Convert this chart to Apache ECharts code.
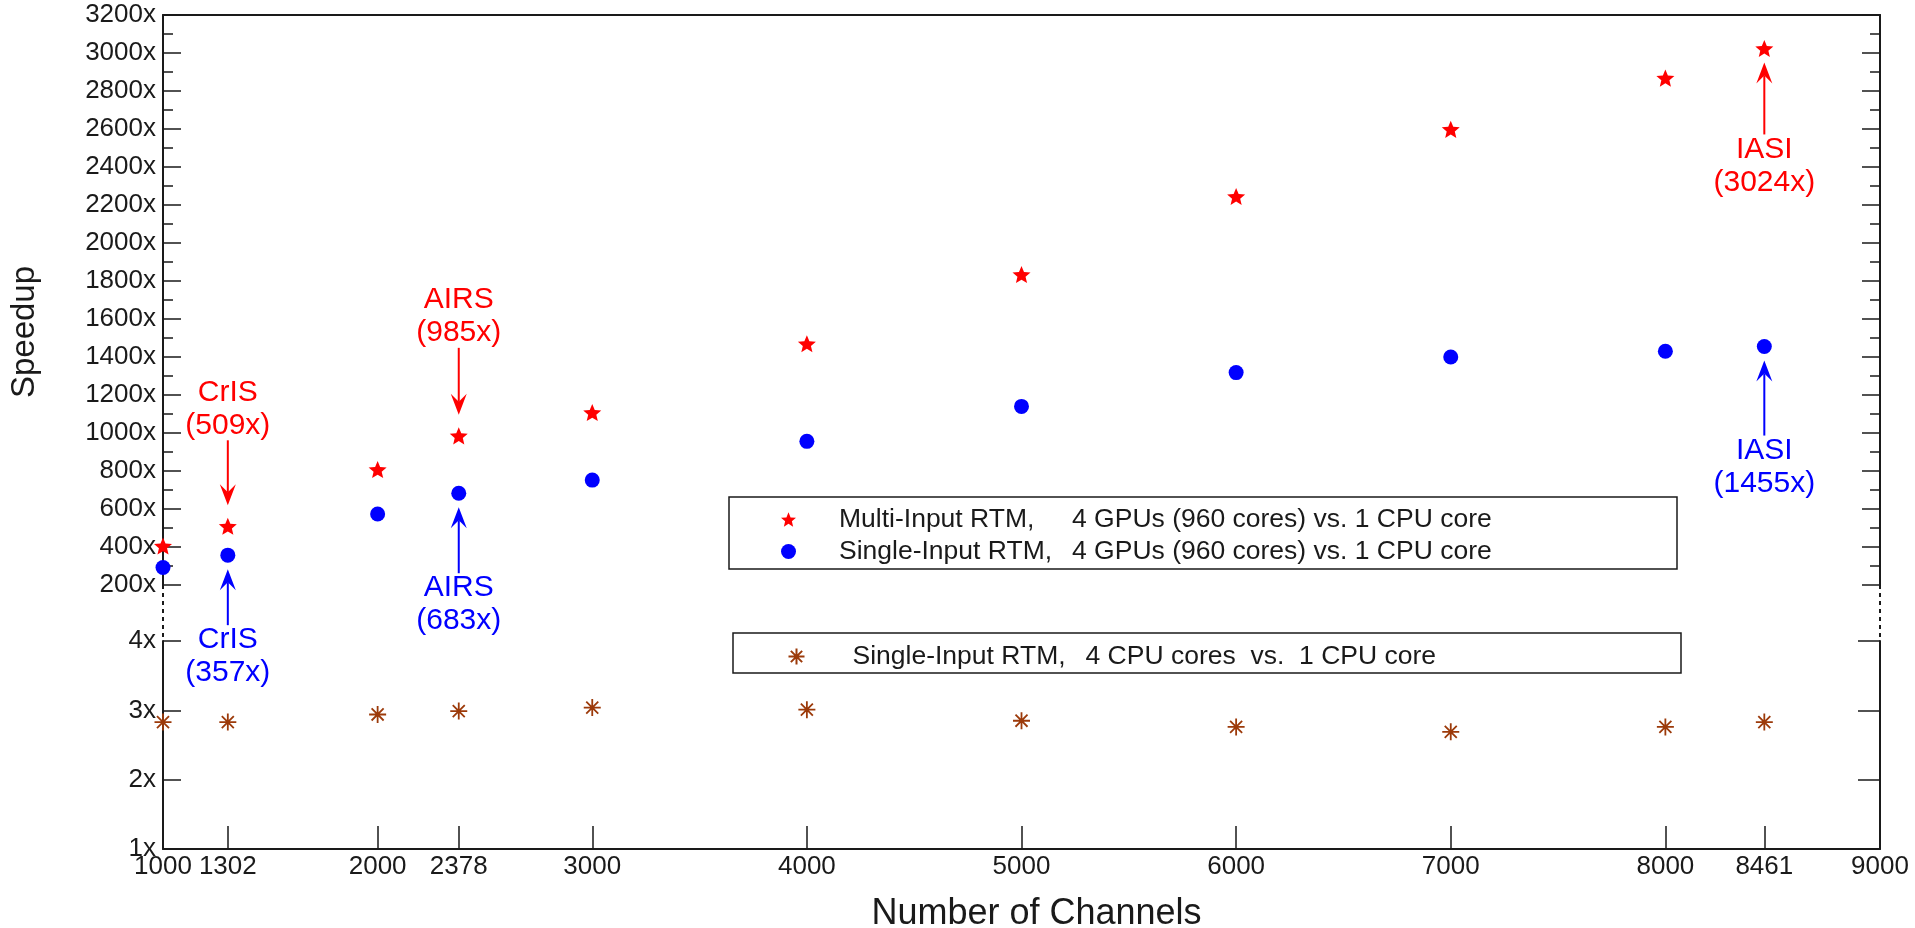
<!DOCTYPE html>
<html><head><meta charset="utf-8">
<script src="https://cdn.jsdelivr.net/npm/echarts@6/dist/echarts.min.js"></script>
<style>html,body{margin:0;padding:0;background:#fff}#c{width:1915px;height:928px}</style>
</head><body><div id="c"></div>
<script>
// ---------- data ----------
const channels   = [1000, 1302, 2000, 2378, 3000, 4000, 5000, 6000, 7000, 8000, 8461];
const multiGpu   = [405, 509, 808, 985, 1108, 1470, 1834, 2245, 2598, 2868, 3024];
const singleGpu  = [292, 357, 574, 683, 752, 956, 1140, 1318, 1400, 1430, 1455];
const singleCpu  = [2.83, 2.83, 2.94, 2.99, 3.04, 3.01, 2.85, 2.76, 2.69, 2.76, 2.83];
const xTickValues  = [1302, 2000, 2378, 3000, 4000, 5000, 6000, 7000, 8000, 8461];
const xLabelValues = [1000, 1302, 2000, 2378, 3000, 4000, 5000, 6000, 7000, 8000, 8461, 9000];
const legendLeft  = ['Multi-Input RTM,', 'Single-Input RTM,', 'Single-Input RTM,'];
const legendRight = ['4 GPUs (960 cores) vs. 1 CPU core', '4 GPUs (960 cores) vs. 1 CPU core', '4 CPU cores  vs.  1 CPU core'];
const annoChannels = [1302, 2378, 8461];
const annoSensors  = ['CrIS', 'AIRS', 'IASI'];

// ---------- layout / style (not data) ----------
const FONT = 'Liberation Sans, Arial, sans-serif';
const RED = '#ff0000', BLUE = '#0000ff', BROWN = '#9c3a0a', INK = '#1a1a1a';
const redAnnoDir = [-1, -1, 1];          // -1: text above point, +1: text below
const redAnnoGap = [101, 103, 101];
const blueAnnoGap = [85, 95, 104];

const names = legendLeft.map((l, i) => l + ' ' + legendRight[i]);
const starPath = 'path://M0,-10 L2.645,-3.64 L9.51,-3.09 L4.28,1.39 L5.88,8.09 L0,4.5 L-5.88,8.09 L-4.28,1.39 L-9.51,-3.09 L-2.645,-3.64 Z';
const asterPath = 'path://M0,-10 L0,10 M-10,0 L10,0 M-7.07,-7.07 L7.07,7.07 M-7.07,7.07 L7.07,-7.07';

const pair = (arr) => channels.map((c, i) => [c, arr[i]]);
const legendFormatter = (name) => {
  const i = names.indexOf(name);
  return '{s| }{a|' + legendLeft[i] + '}{b|' + legendRight[i] + '}';
};
const LFS = 26.5;
const legendText = (pad) => ({
  fontSize: LFS, fontFamily: FONT, color: INK,
  rich: {
    s: { width: pad, fontSize: LFS, lineHeight: 30 },
    a: { width: 233, fontSize: LFS, lineHeight: 30, fontFamily: FONT, color: INK },
    b: { fontSize: LFS, lineHeight: 30, fontFamily: FONT, color: INK }
  }
});

const axisLine = { show: true, lineStyle: { color: INK, width: 2 } };
const yLabel = { show: true, fontSize: 26, fontFamily: FONT, color: INK, margin: 7, formatter: v => v + 'x' };

const chart = echarts.init(document.getElementById('c'), null, { renderer: 'canvas' });
const option = {
  backgroundColor: '#fff',
  animation: false,
  textStyle: { fontFamily: FONT },
  grid: [
    { left: 163, right: 35, top: 15, height: 570, outerBoundsMode: 'none' },
    { left: 163, right: 35, top: 641, height: 208, outerBoundsMode: 'none' }
  ],
  xAxis: [
    { type: 'value', gridIndex: 0, min: 1000, max: 9000, position: 'top',
      axisLine: axisLine, axisTick: { show: false }, axisLabel: { show: false }, splitLine: { show: false } },
    { type: 'value', gridIndex: 1, min: 1000, max: 9000, position: 'bottom',
      axisLine: axisLine,
      axisTick: { show: true, inside: true, length: 23, customValues: xTickValues, lineStyle: { color: INK, width: 1.5 } },
      axisLabel: { show: true, customValues: xLabelValues, fontSize: 26, fontFamily: FONT, color: INK, margin: 5, formatter: v => String(v) },
      splitLine: { show: false },
      name: 'Number of Channels', nameLocation: 'middle', nameGap: 47,
      nameTextStyle: { fontSize: 36, fontFamily: FONT, color: INK, padding: [0, 0, 0, 30] } }
  ],
  yAxis: [
    { type: 'value', gridIndex: 0, min: 200, max: 3200, interval: 200, position: 'left',
      axisLine: axisLine,
      axisTick: { show: true, inside: true, length: 18, lineStyle: { color: INK, width: 1.5 } },
      minorTick: { show: true, splitNumber: 2, length: 10, lineStyle: { color: INK, width: 1.5 } },
      axisLabel: yLabel, splitLine: { show: false }, minorSplitLine: { show: false } },
    { type: 'value', gridIndex: 0, min: 200, max: 3200, interval: 200, position: 'right',
      axisLine: axisLine,
      axisTick: { show: true, inside: true, length: 18, lineStyle: { color: INK, width: 1.5 } },
      minorTick: { show: true, splitNumber: 2, length: 10, lineStyle: { color: INK, width: 1.5 } },
      axisLabel: { show: false }, splitLine: { show: false } },
    { type: 'value', gridIndex: 1, min: 1, max: 4, interval: 1, position: 'left',
      axisLine: axisLine,
      axisTick: { show: true, inside: true, length: 18, lineStyle: { color: INK, width: 1.5 } },
      axisLabel: yLabel, splitLine: { show: false } },
    { type: 'value', gridIndex: 1, min: 1, max: 4, interval: 1, position: 'right',
      axisLine: axisLine,
      axisTick: { show: true, inside: true, length: 22, lineStyle: { color: INK, width: 1.5 } },
      axisLabel: { show: false }, splitLine: { show: false } }
  ],
  legend: [
    { data: [names[0], names[1]], orient: 'vertical', left: 781, top: 506, padding: 0,
      itemWidth: 15, itemHeight: 15, itemGap: 5, selectedMode: false,
      formatter: legendFormatter, textStyle: legendText(38) },
    { data: [names[2]], orient: 'vertical', left: 786, top: 643, padding: 0,
      itemWidth: 16, itemHeight: 16, itemGap: 4, selectedMode: false,
      formatter: legendFormatter, textStyle: legendText(43) }
  ],
  series: [
    { name: names[0], type: 'scatter', xAxisIndex: 0, yAxisIndex: 0, data: pair(multiGpu),
      symbol: starPath, symbolKeepAspect: true, symbolSize: 18, itemStyle: { color: RED, opacity: 1 } },
    { name: names[1], type: 'scatter', xAxisIndex: 0, yAxisIndex: 0, data: pair(singleGpu),
      symbol: 'circle', symbolSize: 15, itemStyle: { color: BLUE, opacity: 1 } },
    { name: names[2], type: 'scatter', xAxisIndex: 1, yAxisIndex: 2, data: pair(singleCpu),
      symbol: asterPath, symbolKeepAspect: true, symbolSize: 17,
      itemStyle: { color: 'none', borderColor: BROWN, borderWidth: 1.8, opacity: 1 } }
  ]
};
chart.setOption(option);

// ---------- decorations computed through the axes ----------
const g = [];
const px = (x, v) => chart.convertToPixel({ xAxisIndex: 0, yAxisIndex: 0 }, [x, v]);
const xL = chart.convertToPixel({ xAxisIndex: 1 }, 1000);
const xR = chart.convertToPixel({ xAxisIndex: 1 }, 9000);
const yBreakTop = chart.convertToPixel({ yAxisIndex: 0 }, 200);
const yBreakBot = chart.convertToPixel({ yAxisIndex: 2 }, 4);
[xL, xR].forEach(x => g.push({ type: 'line', silent: true,
  shape: { x1: x, y1: yBreakTop, x2: x, y2: yBreakBot },
  style: { stroke: INK, lineWidth: 2, lineDash: [4, 4] } }));

// legend frames
g.push({ type: 'rect', silent: true, shape: { x: 729, y: 497, width: 948, height: 72 },
  style: { fill: 'none', stroke: INK, lineWidth: 1.5 } });
g.push({ type: 'rect', silent: true, shape: { x: 733, y: 633, width: 948, height: 40 },
  style: { fill: 'none', stroke: INK, lineWidth: 1.5 } });

// y axis title
g.push({ type: 'text', x: 25, y: 332, rotation: Math.PI / 2, silent: true,
  style: { text: 'Speedup', x: 0, y: 0, fill: INK, fontSize: 33, fontFamily: FONT,
    align: 'center', verticalAlign: 'middle', textAlign: 'center', textVerticalAlign: 'middle' } });

function annotate(xv, val, sensor, dir, gap, color) {
  const p = px(xv, val);
  const x = p[0], y = p[1];
  const tipOff = dir < 0 ? 21 : 14;
  const yTip = y + dir * tipOff;
  const yTail = y + dir * (gap - 15);
  const d = dir < 0 ? 1 : -1;  // arrow direction (1 = pointing down)
  const yNotch = yTip - d * 13;
  g.push({ type: 'line', silent: true, shape: { x1: x, y1: yTail, x2: x, y2: yNotch },
    style: { stroke: color, lineWidth: 2 } });
  g.push({ type: 'polygon', silent: true,
    shape: { points: [[x, yTip], [x - 8, yTip - d * 21], [x, yNotch], [x + 8, yTip - d * 21]] },
    style: { fill: color } });
  const near = y + dir * gap, far = y + dir * (gap + 33);
  const lines = dir < 0 ? [[sensor, far], ['(' + val + 'x)', near]] : [[sensor, near], ['(' + val + 'x)', far]];
  lines.forEach(([t, ty]) => g.push({ type: 'text', silent: true,
    style: { text: t, x: x, y: ty, fill: color, fontSize: 30, fontFamily: FONT,
      align: 'center', verticalAlign: 'middle', textAlign: 'center', textVerticalAlign: 'middle' } }));
}
annoChannels.forEach((c, k) => {
  const i = channels.indexOf(c);
  annotate(c, multiGpu[i], annoSensors[k], redAnnoDir[k], redAnnoGap[k], RED);
  annotate(c, singleGpu[i], annoSensors[k], 1, blueAnnoGap[k], BLUE);
});
chart.setOption({ graphic: g });
</script></body></html>
